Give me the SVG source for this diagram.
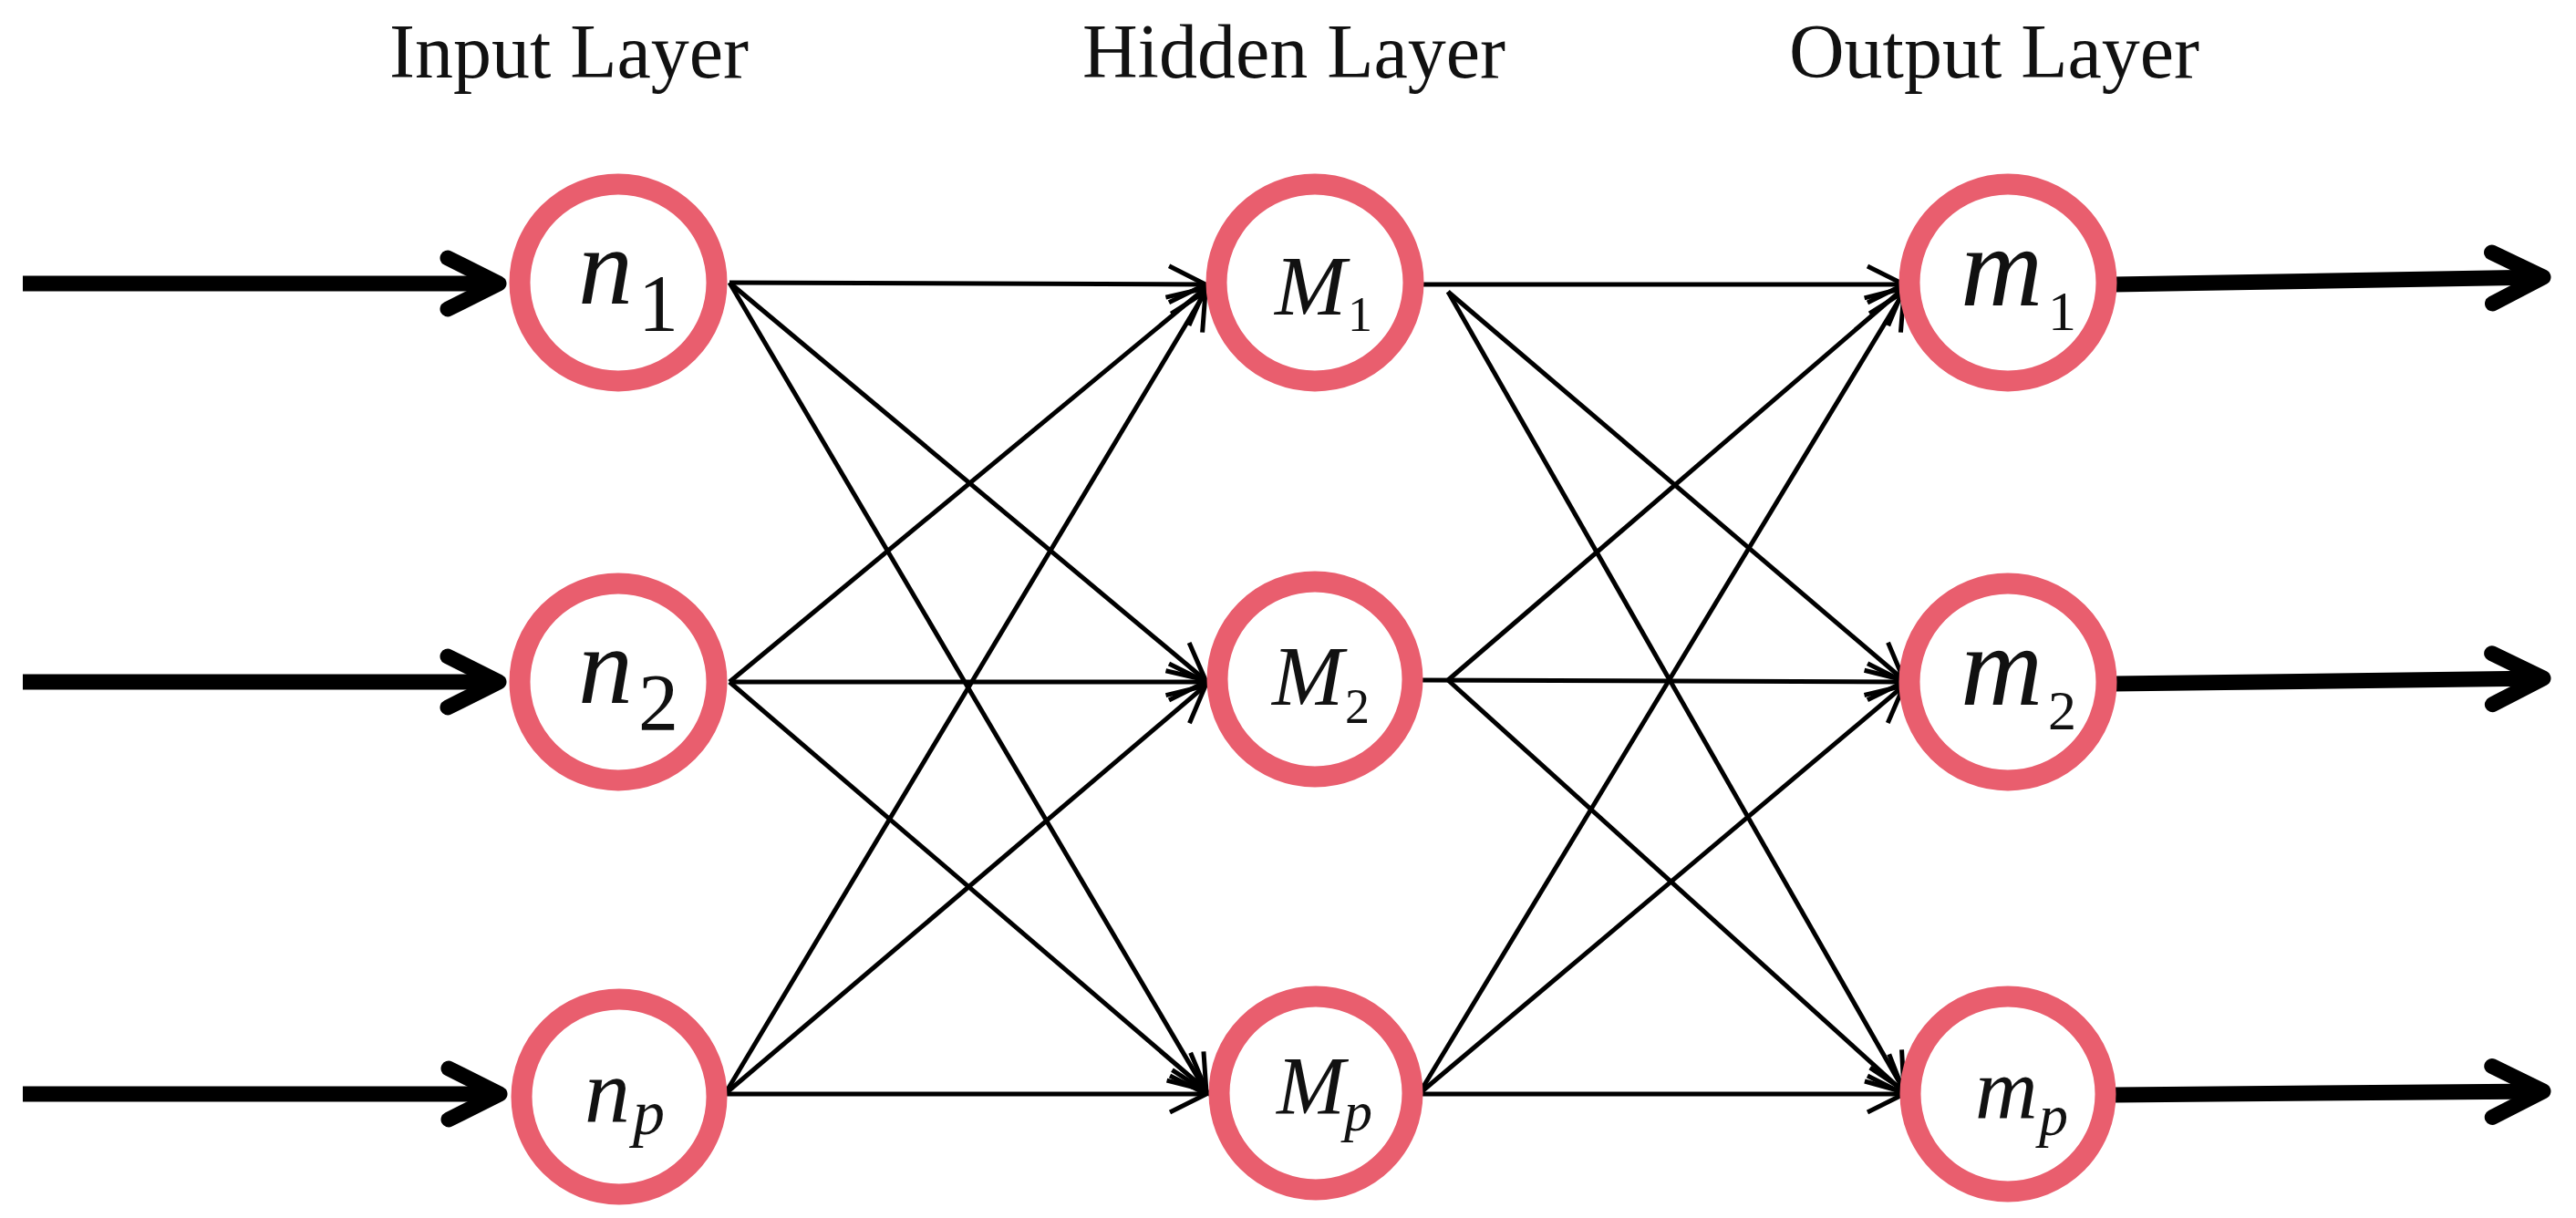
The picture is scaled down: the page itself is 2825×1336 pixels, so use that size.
<svg xmlns="http://www.w3.org/2000/svg" width="2825" height="1336" viewBox="0 0 2825 1336">
<style>
.title{font-family:"Liberation Serif","Times New Roman",serif;font-size:84px;fill:#111;text-anchor:middle}
.ring{fill:#fff;stroke:#E95E6E;stroke-width:23}
.lbl{font-family:"Liberation Serif","Times New Roman",serif;font-style:italic;fill:#111}
.sub{font-style:normal}
.thin{stroke:#000;stroke-width:5;fill:none;marker-end:url(#ah)}
.thick{stroke:#000;stroke-width:17;fill:none;marker-end:url(#ahb)}
</style>
<defs>
<marker id="ah" markerUnits="userSpaceOnUse" orient="auto" overflow="visible" markerWidth="1" markerHeight="1" refX="0" refY="0">
<path d="M-40,-20 L0,0 L-40,20" fill="none" stroke="#000" stroke-width="5" stroke-linejoin="miter"/>
</marker>
<marker id="ahb" markerUnits="userSpaceOnUse" orient="auto" overflow="visible" markerWidth="1" markerHeight="1" refX="0" refY="0">
<path d="M-56,-28 L0,0 L-56,28" fill="none" stroke="#000" stroke-width="17" stroke-linejoin="round" stroke-linecap="round"/>
</marker>
</defs>
<rect width="2825" height="1336" fill="#fff"/>
<g id="titles">
<text class="title" x="624" y="85">Input Layer</text>
<text class="title" x="1419" y="85">Hidden Layer</text>
<text class="title" x="2187" y="85">Output Layer</text>
</g>
<g id="connectors">
<line class="thick" x1="25" y1="311" x2="547" y2="311"/>
<line class="thick" x1="25" y1="748" x2="547" y2="748"/>
<line class="thick" x1="25" y1="1200" x2="548" y2="1200"/>
<line class="thin" x1="800" y1="310" x2="1322" y2="312"/>
<line class="thin" x1="800" y1="310" x2="1322" y2="746"/>
<line class="thin" x1="800" y1="310" x2="1323" y2="1198"/>
<line class="thin" x1="800" y1="748" x2="1322" y2="316"/>
<line class="thin" x1="800" y1="748" x2="1322" y2="748"/>
<line class="thin" x1="800" y1="748" x2="1323" y2="1196"/>
<line class="thin" x1="795" y1="1200" x2="1322" y2="320"/>
<line class="thin" x1="795" y1="1200" x2="1322" y2="752"/>
<line class="thin" x1="795" y1="1200" x2="1323" y2="1200"/>
<line class="thin" x1="1558" y1="312" x2="2088" y2="312"/>
<line class="thin" x1="1588" y1="320" x2="2088" y2="746"/>
<line class="thin" x1="1588" y1="320" x2="2088" y2="1196"/>
<line class="thin" x1="1588" y1="746" x2="2088" y2="316"/>
<line class="thin" x1="1558" y1="746" x2="2088" y2="748"/>
<line class="thin" x1="1588" y1="746" x2="2088" y2="1198"/>
<line class="thin" x1="1556" y1="1200" x2="2088" y2="320"/>
<line class="thin" x1="1556" y1="1200" x2="2088" y2="752"/>
<line class="thin" x1="1556" y1="1200" x2="2088" y2="1200"/>
<line class="thick" x1="2318" y1="312" x2="2789" y2="304"/>
<line class="thick" x1="2318" y1="750" x2="2789" y2="744"/>
<line class="thick" x1="2320" y1="1201" x2="2789" y2="1197"/>
</g>
<g id="n1"><circle class="ring" cx="678" cy="310" r="108"/><text class="lbl" x="634" y="333" font-size="120">n<tspan class="sub" x="700" y="362" font-size="88">1</tspan></text></g>
<g id="n2"><circle class="ring" cx="678" cy="748" r="108"/><text class="lbl" x="634" y="771" font-size="120">n<tspan class="sub" x="700" y="800" font-size="88">2</tspan></text></g>
<g id="np"><circle class="ring" cx="679" cy="1203" r="107"/><text class="lbl" x="641" y="1230" font-size="100">n<tspan x="694" y="1244" font-size="70">p</tspan></text></g>
<g id="M1"><circle class="ring" cx="1442" cy="310" r="108"/><text class="lbl" x="1398" y="345" font-size="94">M<tspan class="sub" x="1478" y="363" font-size="54">1</tspan></text></g>
<g id="M2"><circle class="ring" cx="1442" cy="745" r="107"/><text class="lbl" x="1395" y="773" font-size="94">M<tspan class="sub" x="1475" y="793" font-size="54">2</tspan></text></g>
<g id="Mp"><circle class="ring" cx="1443" cy="1199" r="106"/><text class="lbl" x="1400" y="1222" font-size="90">M<tspan x="1474" y="1240" font-size="62">p</tspan></text></g>
<g id="m1"><circle class="ring" cx="2202" cy="310" r="108"/><text class="lbl" x="2150" y="335" font-size="125">m<tspan class="sub" x="2246" y="362" font-size="62">1</tspan></text></g>
<g id="m2"><circle class="ring" cx="2202" cy="748" r="108"/><text class="lbl" x="2150" y="773" font-size="125">m<tspan class="sub" x="2246" y="800" font-size="62">2</tspan></text></g>
<g id="mp"><circle class="ring" cx="2202" cy="1200" r="107"/><text class="lbl" x="2166" y="1227" font-size="95">m<tspan x="2236" y="1245" font-size="64">p</tspan></text></g>
</svg>
